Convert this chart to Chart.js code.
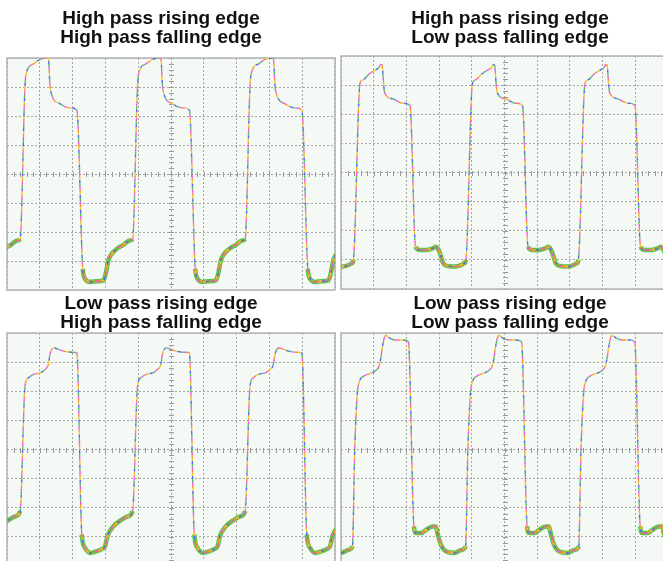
<!DOCTYPE html>
<html>
<head>
<meta charset="utf-8">
<script src="https://cdn.jsdelivr.net/npm/chart.js@4.4.0/dist/chart.umd.min.js"></script>
<style>
  html, body { margin: 0; padding: 0; background: #fff; overflow: hidden; }
  body { width: 663px; height: 561px; position: relative; }
  canvas { position: absolute; }
  .title {
    position: absolute; width: 300px; text-align: center; white-space: nowrap;
    font: bold 19px "Liberation Sans", Arial, sans-serif; line-height: 19px; color: #111;
  }
</style>
</head>
<body>
<canvas id="scope1" width="340" height="295" style="left:0px; top:0px"></canvas>
<canvas id="scope2" width="336" height="295" style="left:336px; top:0px"></canvas>
<canvas id="scope3" width="340" height="275" style="left:0px; top:292px"></canvas>
<canvas id="scope4" width="336" height="275" style="left:336px; top:292px"></canvas>
<div class="title" id="t1" style="left:11px; top:8px"></div>
<div class="title" id="t2" style="left:360px; top:8px"></div>
<div class="title" id="t3" style="left:11px; top:293px"></div>
<div class="title" id="t4" style="left:360px; top:293px"></div>
<script>
// one period of each trace: [time from rising edge (div), level (div)]
const hpRiseHpFall = [
  [0, -2.25], [0.15, 3.06], [0.20, 3.52], [0.41, 3.80], [0.61, 3.95], [0.81, 4.0],
  [0.86, 4.0], [0.91, 3.06], [0.97, 2.71], [1.22, 2.42], [1.52, 2.28], [1.73, 2.20],
  [1.91, -3.27], [1.98, -3.61], [2.13, -3.72], [2.34, -3.70], [2.54, -3.67], [2.62, -3.38],
  [2.69, -2.98], [2.90, -2.63], [3.15, -2.44], [3.35, -2.29],
];
const hpRiseLpFall = [
  [0, -3.0], [0.20, 3.05], [0.29, 3.18], [0.49, 3.39], [0.69, 3.53], [0.78, 3.60],
  [0.84, 3.71], [0.88, 3.67], [0.92, 3.10], [0.95, 2.76], [1.20, 2.53], [1.51, 2.38],
  [1.73, 2.30], [1.90, -2.55], [2.02, -2.66], [2.22, -2.66], [2.43, -2.60], [2.53, -2.55],
  [2.63, -2.72], [2.75, -3.12], [2.89, -3.21], [3.14, -3.23], [3.39, -3.12],
];
const lpRiseHpFall = [
  [0, -2.12], [0.15, 2.18], [0.25, 2.46], [0.41, 2.58], [0.61, 2.63], [0.76, 2.75],
  [0.86, 2.92], [0.91, 3.26], [1.02, 3.49], [1.17, 3.44], [1.32, 3.38], [1.58, 3.34],
  [1.73, 3.32], [1.88, -2.92], [1.98, -3.38], [2.13, -3.55], [2.34, -3.49], [2.49, -3.42],
  [2.59, -3.32], [2.66, -2.98], [2.84, -2.64], [3.10, -2.41], [3.30, -2.29],
];
const lpRiseLpFall = [
  [0, -3.32], [0.07, 0], [0.15, 1.95], [0.20, 2.29], [0.35, 2.52], [0.51, 2.60],
  [0.71, 2.71], [0.81, 2.86], [0.87, 3.15], [0.92, 3.55], [1.02, 3.92], [1.12, 3.84],
  [1.32, 3.76], [1.53, 3.76], [1.71, 3.70], [1.88, -2.64], [1.94, -2.87], [2.09, -2.87],
  [2.24, -2.77], [2.45, -2.64], [2.55, -2.64], [2.60, -2.87], [2.70, -3.26], [2.85, -3.49],
  [3.11, -3.55], [3.36, -3.44],
];

// where each rising edge starts on screen (div)
const starts1 = [-3.03, 0.40, 3.83, 7.26];
const starts2 = [-3.06, 0.38, 3.82, 7.26];
const starts3 = [-3.03, 0.40, 3.83, 7.26];
const starts4 = [-3.11, 0.35, 3.81, 7.27];

const titles = [
  ["High pass rising edge", "High pass falling edge"],
  ["High pass rising edge", "Low pass falling edge"],
  ["Low pass rising edge", "High pass falling edge"],
  ["Low pass rising edge", "Low pass falling edge"],
];

const plotBg = "#f4f9f5";
const gridColor = "#a6a6a6";
const frameColor = "#b4b4b4";
const dashColors = ["#ee55ee", "#4cc84c", "#5663ff", "#e6cc2a", "#ff8a40"];

const scopeFrame = {
  id: "scopeFrame",
  beforeDraw(chart) {
    const { ctx, chartArea: a } = chart;
    ctx.save();
    ctx.fillStyle = plotBg;
    ctx.fillRect(a.left, a.top, a.width, a.height);
    ctx.restore();
  },
  beforeDatasetsDraw(chart) {
    const { ctx, chartArea: a } = chart;
    const xs = chart.scales.x, ys = chart.scales.y;
    const cx = Math.round(xs.getPixelForValue(5)) + 0.5;
    const cy = Math.round(ys.getPixelForValue(0)) + 0.5;
    ctx.save();
    ctx.strokeStyle = "#9a9a9a";
    ctx.lineWidth = 1;
    ctx.beginPath();
    for (let i = 0; i <= 50; i++) {
      const px = Math.round(xs.getPixelForValue(i / 5)) + 0.5;
      ctx.moveTo(px, cy - 2.5); ctx.lineTo(px, cy + 2.5);
    }
    for (let i = 0; i <= 40; i++) {
      const py = Math.round(ys.getPixelForValue(-4 + i / 5)) + 0.5;
      ctx.moveTo(cx - 2.5, py); ctx.lineTo(cx + 2.5, py);
    }
    ctx.stroke();
    ctx.strokeStyle = frameColor;
    ctx.lineWidth = 1.5;
    ctx.strokeRect(a.left, a.top, a.width, a.height);
    ctx.restore();
  },
};

function buildTrace(shape, starts) {
  const pts = [];
  starts.forEach((s) => shape.forEach(([dx, v]) => pts.push({ x: s + dx, y: v })));
  return pts;
}

// thick noise band only on the low, flat parts of the trace
const lowFlat = (on) => (c) => (c.p0.parsed.y < -1.5 && c.p1.parsed.y < -1.5 ? on : "rgba(0,0,0,0)");

function scopeChart(id, shape, starts, padding) {
  const trace = buildTrace(shape, starts);
  const base = { data: trace, pointRadius: 0, fill: false, cubicInterpolationMode: "monotone" };
  const datasets = [
    { ...base, borderWidth: 4.5, borderColor: "#4cc64c", segment: { borderColor: lowFlat("#4cc64c") }, order: 9 },
    { ...base, borderWidth: 2.4, borderColor: "#f6a620", segment: { borderColor: lowFlat("#f6a620") }, order: 8 },
    { ...base, borderWidth: 1, borderColor: "#5a4fd0", segment: { borderColor: lowFlat("#5a4fd0") }, order: 7 },
  ];
  dashColors.forEach((col, i) => {
    datasets.push({ ...base, borderWidth: 1.4, borderColor: col, borderDash: [3, 12], borderDashOffset: i * 3, order: 1 + i });
  });
  const axis = (min, max) => ({
    type: "linear", min, max,
    ticks: { display: false, stepSize: 1 },
    grid: { color: gridColor, lineWidth: 1, drawTicks: false },
    border: { display: false, dash: [2, 2] },
  });
  return new Chart(document.getElementById(id), {
    type: "line",
    data: { datasets },
    options: {
      responsive: false,
      animation: false,
      events: [],
      layout: { padding },
      plugins: { legend: { display: false }, tooltip: { enabled: false }, title: { display: false } },
      scales: { x: axis(0, 10), y: axis(-4, 4) },
    },
    plugins: [scopeFrame],
  });
}

["t1", "t2", "t3", "t4"].forEach((id, i) => {
  document.getElementById(id).innerHTML = titles[i].join("<br>");
});

scopeChart("scope1", hpRiseHpFall, starts1, { left: 7, top: 58, right: 5, bottom: 5 });
scopeChart("scope2", hpRiseLpFall, starts2, { left: 5, top: 56, right: 4, bottom: 6 });
scopeChart("scope3", lpRiseHpFall, starts3, { left: 7, top: 41, right: 5, bottom: 1 });
scopeChart("scope4", lpRiseLpFall, starts4, { left: 5, top: 41, right: 4, bottom: 1 });
</script>
</body>
</html>
